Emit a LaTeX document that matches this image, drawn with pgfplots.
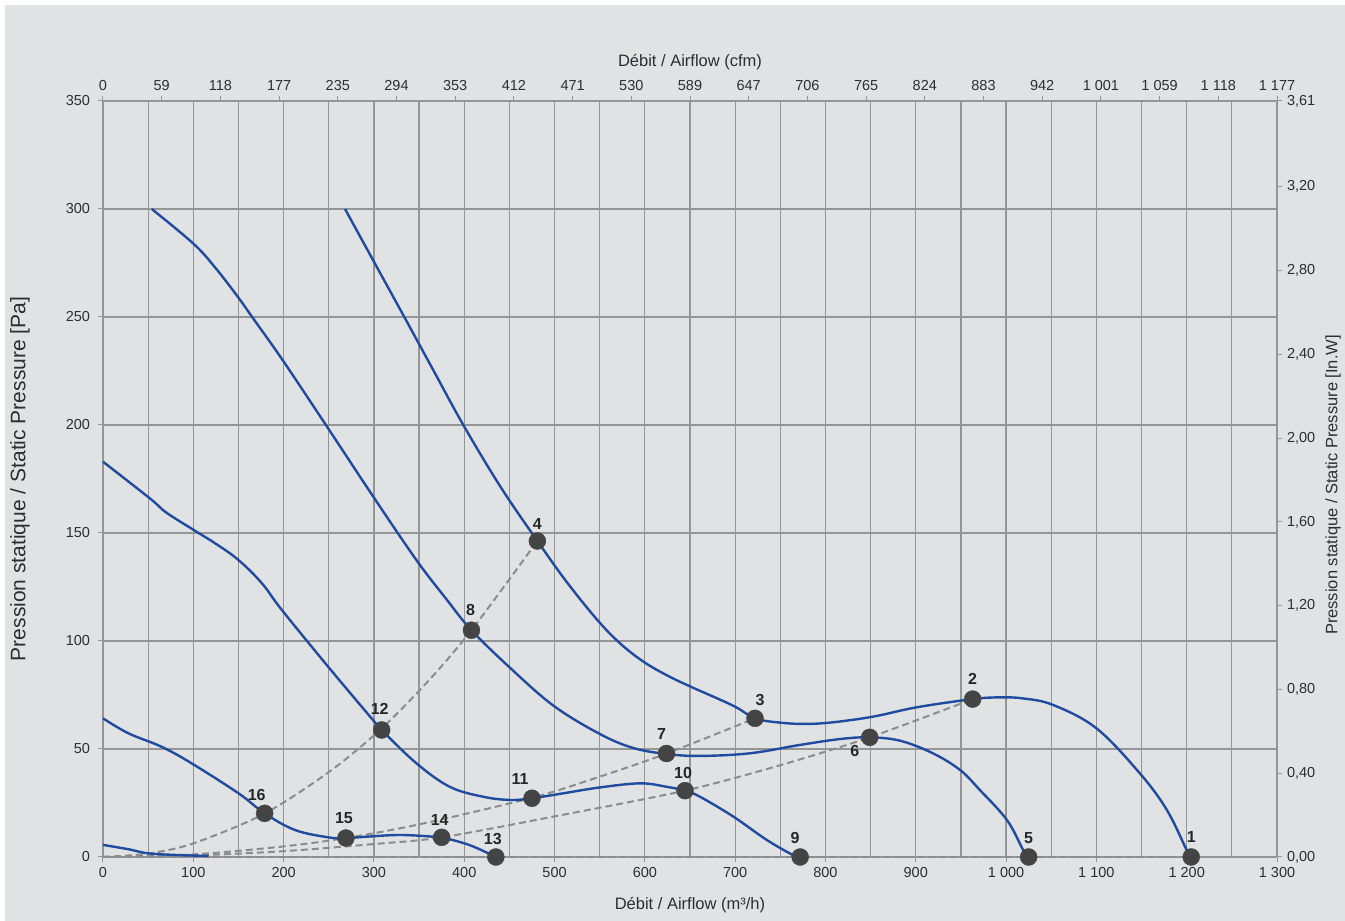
\documentclass[border=0pt]{standalone}
\usepackage{pgfplots}
\pgfplotsset{compat=1.18}
\usepackage{fontspec}
\setmainfont{Liberation Sans}
\definecolor{bg}{HTML}{E1E2E4}
\definecolor{gridc}{HTML}{959595}
\definecolor{curve}{HTML}{1F4BA0}
\definecolor{dashc}{HTML}{8C8C8C}
\definecolor{dot}{HTML}{444444}
\definecolor{txt}{HTML}{2E2E2E}
\begin{document}
\fontsize{14.5pt}{17pt}\selectfont
\begin{tikzpicture}
\useasboundingbox (-103pt,-64pt) rectangle (1242pt,857pt);
\fill[white] (-103pt,-64pt) rectangle (1242pt,857pt);
\fill[bg] (-98pt,-64pt) rectangle (1242pt,852pt);
\begin{axis}[
  at={(0pt,0pt)}, anchor=south west,
  scale only axis, width=1174pt, height=756pt,
  xmin=0, xmax=1300, ymin=0, ymax=350,
  /pgf/number format/assume math mode=true,
  xtick={0,100,...,1300},
  xticklabels={0,100,200,300,400,500,600,700,800,900,1 000,1 100,1 200,1 300},
  minor x tick num=1,
  ytick={0,50,...,350},
  yticklabels={0,50,100,150,200,250,300,350},
  grid=both,
  major grid style={gridc, line width=1.2pt},
  minor grid style={gridc, line width=1.2pt},
  axis line style={gridc, line width=1.2pt},
  tick style={gridc, line width=1pt},
  tick align=outside, major tick length=5pt, minor tick length=0pt,
  tick pos=left,
  tick label style={font=\fontsize{14.5pt}{17pt}\selectfont, text=txt},
  yticklabel style={xshift=-3pt},
  clip=false,
]
% system curves (dashed)
\addplot[dashc, line width=2pt, dash pattern=on 7pt off 4pt, smooth] coordinates {
 (0,0) (50,1.6) (100,6.3) (178,19.9) (250,39.3) (308,59.3) (360,81.4) (408,105) (481,146.3)};
\addplot[dashc, line width=2pt, dash pattern=on 7pt off 4pt, smooth] coordinates {
 (0,0) (100,1.2) (200,4.9) (269,8.8) (350,15.1) (475,27.4) (550,37.2) (624,47.9) (722,64.2)};
\addplot[dashc, line width=2pt, dash pattern=on 7pt off 4pt, smooth] coordinates {
 (0,0) (100,0.7) (200,2.7) (300,6.0) (375,9.1) (500,18.8) (644,30.7) (750,42.5) (849,55.4) (963,73.1)};
\addplot[dashc, line width=2pt, dash pattern=on 7pt off 4pt] coordinates {(0,0) (1205,0)};
% fan curves
\addplot[curve, line width=2.4pt, smooth, tension=0.6] coordinates {
 (268,300) (300,275.6) (333,250.5) (366,225.2) (399,200) (440,171.5) (481,146.3) (515,126.5) (550,108.5) (575,98) (600,90) (625,84) (650,79) (698,70) (722,64.2) (750,62.2) (779,61.6) (809,62.4) (853,65) (901,69.3) (963,73.1) (993,73.9) (1019,73.4) (1052,70.4) (1100,59.6) (1148,38.8) (1178,21.8) (1200,3.2) (1205,0)};
\addplot[curve, line width=2.4pt, smooth, tension=0.6] coordinates {
 (54,300) (100,284) (124,273) (149,259.5) (166,249.5) (199,230) (250,198) (299,167) (347,137.5) (380,119.5) (408,105) (451,87.5) (499,70) (550,57) (587,50.5) (624,47.7) (661,46.8) (716,48) (772,51.9) (816,54.6) (849,55.4) (883,53.8) (919,48) (949,40.3) (971,31) (1001,17.1) (1019,3.2) (1025,0)};
\addplot[curve, line width=2.4pt, smooth, tension=0.6] coordinates {
 (0,183) (52,166) (70,159.5) (102,151) (125,145) (150,137.5) (176,126.7) (198,114.4) (249.5,88) (299,63.4) (308.6,58.8) (347,43.4) (384,32.5) (421,27.9) (451,26.4) (475,27.2) (510,29.5) (550,32.2) (595,34.1) (624,32.5) (644.5,30.7) (661,27.9) (698,18.7) (735,7.9) (764,0.9) (772,0)};
\addplot[curve, line width=2.4pt, smooth, tension=0.6] coordinates {
 (0,64.2) (28,57.3) (65,51) (98,43.4) (150,29.5) (179,20.2) (212.6,12.5) (249.5,9.1) (268,8.7) (292,9.4) (329,10.2) (366,9.4) (375,9.1) (406,5.5) (435,0)};
\addplot[curve, line width=2.4pt, smooth, tension=0.6] coordinates {
 (0,5.6) (28,3.6) (50,1.7) (83,0.9) (117,0.5)};
% operating points
\addplot[only marks, mark=*, mark size=8.5pt, mark options={fill=dot, draw=dot}] coordinates {
 (1205,0) (963,73.1) (722,64.2) (481,146.3) (1025,0) (849,55.4) (624,47.9) (408,105)
 (772,0) (644.5,30.7) (475,27.2) (308.6,58.8) (435,0) (375,9.1) (269,8.8) (179,20.2)};
\tikzset{lbl/.style={font=\fontsize{16pt}{18pt}\selectfont\bfseries, text=black!85, inner sep=0pt}}
\node[lbl, xshift=0pt,  yshift=20pt]  at (axis cs:1205,0) {1};
\node[lbl, xshift=0pt,  yshift=20pt]  at (axis cs:963,73.1) {2};
\node[lbl, xshift=5pt,  yshift=18pt]  at (axis cs:722,64.2) {3};
\node[lbl, xshift=0pt,  yshift=17pt]  at (axis cs:481,146.3) {4};
\node[lbl, xshift=0pt,  yshift=19pt]  at (axis cs:1025,0) {5};
\node[lbl, xshift=-15pt,yshift=-14pt] at (axis cs:849,55.4) {6};
\node[lbl, xshift=-5pt, yshift=20pt]  at (axis cs:624,47.9) {7};
\node[lbl, xshift=-1pt, yshift=20pt]  at (axis cs:408,105) {8};
\node[lbl, xshift=-5pt, yshift=19pt]  at (axis cs:772,0) {9};
\node[lbl, xshift=-2pt, yshift=18pt]  at (axis cs:644.5,30.7) {10};
\node[lbl, xshift=-12pt,yshift=19pt]  at (axis cs:475,27.2) {11};
\node[lbl, xshift=-2pt, yshift=21pt]  at (axis cs:308.6,58.8) {12};
\node[lbl, xshift=-3pt, yshift=18pt]  at (axis cs:435,0) {13};
\node[lbl, xshift=-2pt, yshift=17pt]  at (axis cs:375,9.1) {14};
\node[lbl, xshift=-2pt, yshift=20pt]  at (axis cs:269,8.8) {15};
\node[lbl, xshift=-8pt, yshift=18pt]  at (axis cs:179,20.2) {16};
% axis titles
\tikzset{ttl/.style={font=\fontsize{16.5pt}{19pt}\selectfont, text=txt}}
\node[ttl, yshift=-48pt] at (rel axis cs:0.5,0) {Débit / Airflow (m³/h)};
\node[ttl, yshift=39pt] at (rel axis cs:0.5,1) {Débit / Airflow (cfm)};
\node[ttl, font=\fontsize{21pt}{23pt}\selectfont, xshift=-83pt, rotate=90] at (rel axis cs:0,0.5) {Pression statique / Static Pressure [Pa]};
\node[ttl, xshift=56pt, yshift=-6pt, rotate=90] at (rel axis cs:1,0.5) {Pression statique / Static Pressure [In.W]};
\end{axis}
\begin{axis}[
  at={(0pt,0pt)}, anchor=south west,
  scale only axis, width=1174pt, height=756pt,
  xmin=0, xmax=1300, ymin=0, ymax=3.61,
  axis x line*=top, axis y line*=right,
  xtick={0,65,...,1300},
  xticklabels={0,59,118,177,235,294,353,412,471,530,589,647,706,765,824,883,942,1 001,1 059,1 118,1 177},
  ytick={0,0.4,0.8,1.2,1.6,2.0,2.4,2.8,3.2,3.61},
  yticklabels={{0,00},{0,40},{0,80},{1,20},{1,60},{2,00},{2,40},{2,80},{3,20},{3,61}},
  axis line style={gridc, line width=1.2pt},
  tick style={gridc, line width=1pt},
  tick align=outside, major tick length=5pt,
  tick label style={font=\fontsize{14.5pt}{17pt}\selectfont, text=txt},
]
\end{axis}
\end{tikzpicture}
\end{document}
